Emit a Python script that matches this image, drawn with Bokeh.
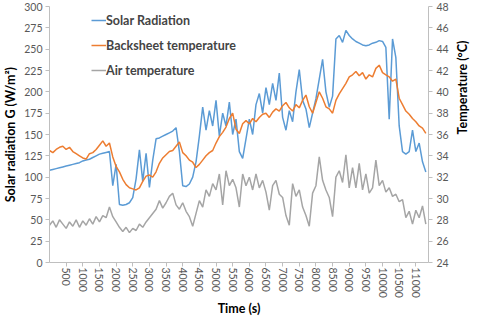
import math
from bokeh.plotting import figure
from bokeh.models import Range1d, LinearAxis, FixedTicker, Legend, LegendItem
from bokeh.embed import file_html
from bokeh.resources import INLINE

# ---- data ----
time_s = list(range(0, 11400, 100))

solar = [108, 109, 110, 111, 112, 113, 114, 115, 116, 117, 119, 120, 121, 123, 125, 127, 128, 129, 130,
         90, 115, 68, 67, 68, 70, 76, 98, 132, 95, 128,
         88, 120, 145, 146, 148, 150, 152, 154, 158, 130,
         90, 89, 92, 100, 118, 148, 182, 155, 178, 160,
         190, 148, 175, 160, 188, 150, 168, 130, 122, 145,
         168, 150, 185, 198, 175, 205, 185, 210, 190, 222,
         170, 155, 178, 165, 200, 226, 190, 180, 158, 175,
         192, 215, 238, 200, 182, 195, 262, 266, 258, 272,
         266, 262, 259, 257, 255, 254, 255, 257, 258, 260,
         259, 252, 168, 262, 240, 160, 130, 127, 130, 155,
         130, 140, 118, 106]

backsheet = [34.5, 34.3, 34.6, 34.8, 34.9, 34.6, 34.8, 34.4, 34.2, 34.0, 33.8, 33.7, 34.2, 34.3, 34.6, 35.0, 35.4, 34.9, 35.2,
             33.9, 33.0, 32.5, 31.8, 31.3, 31.0, 30.9, 30.8, 31.0, 31.6, 32.1,
             32.2, 32.0, 32.5, 33.3, 33.8, 34.1, 34.4, 34.5, 34.9, 35.3,
             34.3, 34.0, 33.6, 33.4, 32.9, 33.2, 33.6, 34.0, 34.3, 34.5,
             35.2, 35.8, 36.2, 36.7, 37.5, 38.0, 36.5, 36.1, 37.0, 37.3,
             37.0, 37.5, 37.2, 37.6, 37.9, 38.0, 37.6, 38.1, 38.4, 38.2,
             38.7, 39.0, 38.5, 38.2, 38.8, 38.5, 39.2, 39.7, 38.6, 38.0,
             39.0, 40.0, 39.4, 38.6, 38.4, 38.0, 39.2, 39.8, 40.3, 40.8,
             41.4, 41.6, 41.9, 41.5, 41.8, 41.2, 41.6, 41.4, 42.2, 42.5,
             41.8, 41.6, 41.4, 41.0, 41.2, 39.4, 38.8, 38.2, 37.9, 37.5,
             37.2, 36.8, 36.6, 36.1]

air = [27.5, 27.9, 27.3, 28.0, 27.6, 27.2, 27.8, 27.4, 28.0, 27.3, 27.9, 27.5, 28.1, 27.6, 28.3, 27.8, 28.4, 28.2, 29.2,
       28.3, 27.8, 27.3, 26.9, 27.3, 26.8, 27.2, 27.0, 27.6, 27.3, 27.8,
       28.2, 28.6, 29.0, 29.8, 29.1, 29.6, 30.2, 30.5, 29.4, 29.0,
       29.6, 28.8, 28.3, 27.4, 28.6, 29.8, 29.2, 30.8, 30.2, 31.4,
       30.8, 32.3, 29.4, 32.6, 31.2, 31.8, 31.0, 29.2, 32.3, 31.2,
       32.0, 30.8, 32.3, 31.0, 31.7, 30.6, 28.9, 31.2, 31.7, 30.4,
       30.1, 28.4, 27.5, 31.4, 30.2, 30.8, 29.2, 28.4, 27.4, 30.5,
       31.2, 33.9, 31.7, 30.8, 30.1, 28.3, 32.0, 32.6, 31.5, 34.1,
       31.0, 32.9, 31.0, 33.3, 30.8, 32.3, 30.5, 31.0, 33.6, 31.2,
       31.7, 30.6, 31.0, 30.2, 30.4, 29.7, 29.9, 28.2, 28.8, 27.6,
       28.9, 28.2, 29.3, 27.6]

x_ticks = list(range(500, 11001, 500))
left_ticks = list(range(0, 301, 25))
right_ticks = list(range(24, 49, 2))

FONT = "Lato"
TICK_COLOR = "#595959"
AXIS_COLOR = "#bfbfbf"

p = figure(width=480, height=318, output_backend="svg", toolbar_location=None,
           x_range=Range1d(0, 11380), y_range=Range1d(0, 300),
           min_border_left=44, min_border_right=44, min_border_top=6, min_border_bottom=56)
p.extra_y_ranges = {"temp": Range1d(24, 48)}
p.outline_line_color = None
p.xgrid.visible = False
p.ygrid.visible = False
p.background_fill_color = "white"

l_solar = p.line(time_s, solar, line_color="#5b9bd5", line_width=1.5)
l_back = p.line(time_s, backsheet, line_color="#ed7d31", line_width=1.5, y_range_name="temp")
l_air = p.line(time_s, air, line_color="#a5a5a5", line_width=1.5, y_range_name="temp")

right = LinearAxis(y_range_name="temp")
p.add_layout(right, "right")

def style(ax, ticks):
    ax.ticker = FixedTicker(ticks=ticks)
    ax.axis_line_color = AXIS_COLOR
    ax.major_tick_line_color = AXIS_COLOR
    ax.major_tick_out = 4
    ax.major_tick_in = 0
    ax.minor_tick_line_color = None
    ax.major_label_text_font = FONT
    ax.major_label_text_font_size = "10.5px"
    ax.major_label_text_color = TICK_COLOR
    ax.axis_label_text_font = FONT
    ax.axis_label_text_font_style = "bold"
    ax.axis_label_text_font_size = "12.5px"
    ax.axis_label_text_color = "black"

style(p.xaxis[0], x_ticks)
style(p.yaxis[0], left_ticks)
style(right, right_ticks)

p.xaxis[0].axis_label = "Time (s)"
p.xaxis[0].major_label_orientation = "vertical"
p.xaxis[0].major_label_standoff = 1
p.xaxis[0].axis_label_standoff = 0
p.yaxis[0].axis_label = "Solar radiation G (W/m²)"
p.yaxis[0].major_label_standoff = 3
p.yaxis[0].axis_label_standoff = 3
right.axis_label = "Temperature (°C)"
right.major_label_standoff = 4
right.axis_label_standoff = 11
right.axis_label_orientation = math.pi / 2

legend = Legend(items=[LegendItem(label="Solar Radiation", renderers=[l_solar]),
                       LegendItem(label="Backsheet temperature", renderers=[l_back]),
                       LegendItem(label="Air temperature", renderers=[l_air])],
                location=(42, 184))
legend.background_fill_alpha = 0
legend.border_line_color = None
legend.label_text_font = FONT
legend.label_text_font_style = "bold"
legend.label_text_font_size = "12.5px"
legend.glyph_width = 15
legend.glyph_height = 16
legend.label_height = 16
legend.spacing = 9
legend.padding = 0
legend.margin = 0
legend.label_standoff = 0
p.add_layout(legend, "center")

open("out.html", "w").write(file_html(p, INLINE))
